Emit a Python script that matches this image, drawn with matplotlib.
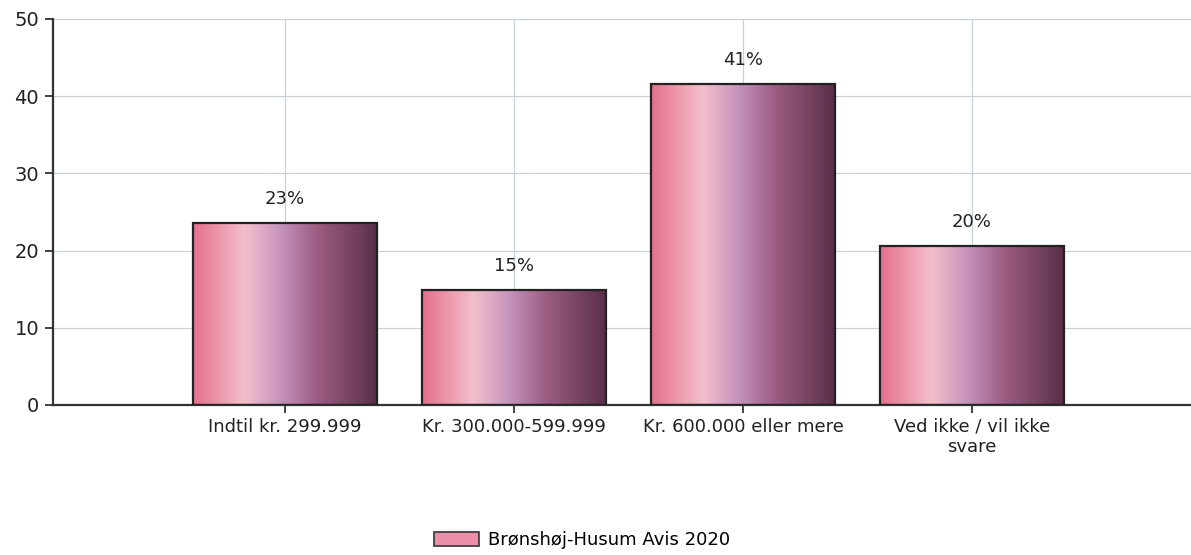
import matplotlib
matplotlib.use("Agg")
import matplotlib.pyplot as plt
import numpy as np
from matplotlib.colors import LinearSegmentedColormap
from matplotlib.patches import Patch

# data
categories = ["Indtil kr. 299.999", "Kr. 300.000-599.999", "Kr. 600.000 eller mere", "Ved ikke / vil ikke\nsvare"]
values = [23.6, 14.9, 41.6, 20.6]
labels = ["23%", "15%", "41%", "20%"]
series_name = "Brønshøj-Husum Avis 2020"

plt.rcParams['font.family'] = ['DejaVu Sans']

fig = plt.figure(figsize=(11.91, 5.55), dpi=100)
ax = fig.add_axes([53/1191, 150/555, 1148/1191, 386/555])

# gradient used inside each bar (left pink -> light pink -> mauve -> dark plum)
grad = LinearSegmentedColormap.from_list("bar", [
    (0.0, "#e5708e"), (0.28, "#f3bfcb"), (0.48, "#c592bc"),
    (0.68, "#9b5c82"), (1.0, "#5a2f48")])

x = np.arange(len(categories))
bars = ax.bar(x, values, width=0.8, facecolor="none", edgecolor="#222222", linewidth=1.6, zorder=3)
g = np.linspace(0, 1, 256).reshape(1, -1)
for b in bars:
    x0, y0 = b.get_x(), b.get_y()
    im = ax.imshow(g, cmap=grad, aspect="auto", zorder=2,
                   extent=[x0, x0 + b.get_width(), y0, y0 + b.get_height()])
    im.set_clip_path(b)

for xi, v, lab in zip(x, values, labels):
    ax.annotate(lab, (xi, v), xytext=(0, 11), textcoords="offset points",
                ha="center", va="bottom", fontsize=13, color="#222222")

ax.set_xlim(-1.013, 4.0)
ax.set_ylim(0, 50)
ax.set_yticks([0, 10, 20, 30, 40, 50])
ax.set_xticks(x)
ax.set_xticklabels(categories, fontsize=13, color="#222222")
ax.tick_params(axis="y", labelsize=14, length=6, width=1.3, color="#333333", labelcolor="#222222", pad=4)
ax.tick_params(axis="x", length=6, width=1.3, color="#333333", pad=3)

ax.grid(True, color="#c8d0d8", linewidth=0.9, zorder=0)
ax.set_axisbelow(True)
for s in ["top", "right"]:
    ax.spines[s].set_visible(False)
for s in ["left", "bottom"]:
    ax.spines[s].set_color("#333333")
    ax.spines[s].set_linewidth(1.6)

handle = Patch(facecolor="#ec8fa8", edgecolor="#333333", linewidth=1.2)
fig.legend([handle], [series_name], loc="center", bbox_to_anchor=(582/1191, 1 - 540/555),
           frameon=False, fontsize=13, handlelength=2.5, handleheight=0.8, handletextpad=0.5)

fig.savefig("out.png", dpi=100, facecolor="white")
